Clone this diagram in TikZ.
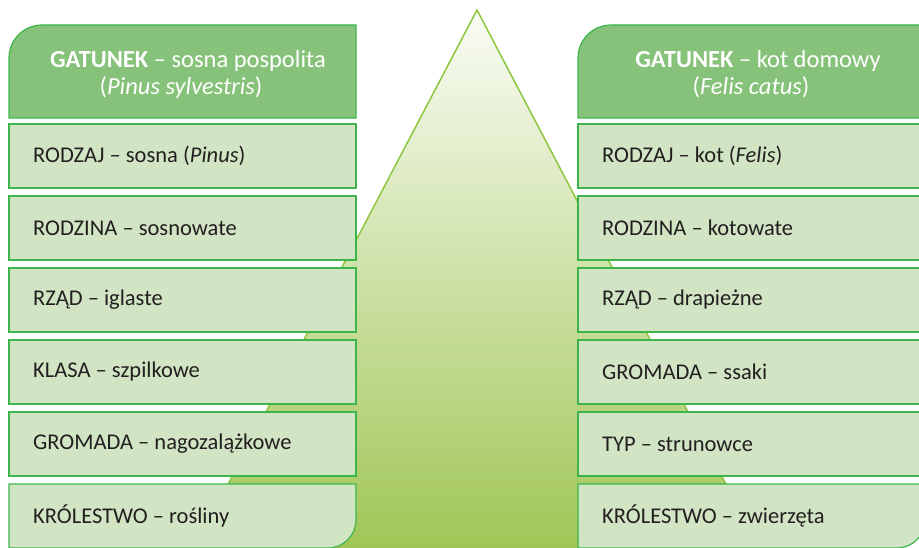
\documentclass[tikz,border=0pt]{standalone}
\usepackage{fontspec}
\setmainfont{Carlito}
\definecolor{boxfill}{HTML}{D1E4C3}
\definecolor{boxline}{HTML}{3DB54A}
\definecolor{hdrfill}{HTML}{87C27B}
\definecolor{trline}{HTML}{8DC63F}
\definecolor{trtop}{HTML}{FAFCF6}
\definecolor{trbot}{HTML}{A0C656}
\definecolor{txt}{HTML}{231F20}
\begin{document}
\begin{tikzpicture}[x=1pt,y=1pt,
  rowbox/.style={draw=boxline,fill=boxfill,line width=1.2pt},
  hdrbox/.style={draw=boxline,fill=hdrfill,line width=1.2pt},
  rowtext/.style={anchor=west,inner sep=0pt,text=txt,font=\fontsize{22.5}{27}\selectfont},
  hdrtext/.style={anchor=base,inner sep=0pt,text=white,font=\fontsize{24.5}{27}\selectfont}]
\useasboundingbox (0,0) rectangle (919,547);
% pyramid
\shade[top color=trtop,bottom color=trbot,draw=trline,line width=1.5pt]
  (477,537) coordinate (apex) -- (194,-2) -- (760,-2) -- cycle;
% left column
\draw[hdrbox] (9,429) -- (9,489) arc[start angle=180,end angle=90,radius=33pt] -- (356,522) -- (356,429) -- cycle;
\foreach \t in {423,351,279,207,135}
  \draw[rowbox] (9,\t) rectangle (356,\t-64);
\draw[rowbox] (9,63) -- (356,63) -- (356,27) arc[start angle=0,end angle=-90,radius=28pt] -- (9,-1) -- cycle;
% right column
\draw[hdrbox] (578,429) -- (578,489) arc[start angle=180,end angle=90,radius=33pt] -- (925,522) -- (925,429) -- cycle;
\foreach \t in {423,351,279,207,135}
  \draw[rowbox] (578,\t) rectangle (925,\t-64);
\draw[rowbox] (578,63) -- (925,63) -- (925,27) arc[start angle=0,end angle=-90,radius=28pt] -- (578,-1) -- cycle;
% header texts
\node[hdrtext] (lh1) at (188,479) {\textbf{GATUNEK} – sosna pospolita};
\node[hdrtext] (lh2) at (181,452) {(\textit{Pinus sylvestris})};
\node[hdrtext] (rh1) at (758,479) {\textbf{GATUNEK} – kot domowy};
\node[hdrtext] (rh2) at (751,452) {(\textit{Felis catus})};
% left rows
\node[rowtext] (l1) at (33,391) {RODZAJ – sosna (\textit{Pinus})};
\node[rowtext] (l2) at (33,319) {RODZINA – sosnowate};
\node[rowtext] (l3) at (33,247) {RZĄD – iglaste};
\node[rowtext] (l4) at (33,175) {KLASA – szpilkowe};
\node[rowtext] (l5) at (33,103) {GROMADA – nagozalążkowe};
\node[rowtext] (l6) at (33,31) {KRÓLESTWO – rośliny};
% right rows
\node[rowtext] (r1) at (602,391) {RODZAJ – kot (\textit{Felis})};
\node[rowtext] (r2) at (602,319) {RODZINA – kotowate};
\node[rowtext] (r3) at (602,247) {RZĄD – drapieżne};
\node[rowtext] (r4) at (602,175) {GROMADA – ssaki};
\node[rowtext] (r5) at (602,103) {TYP – strunowce};
\node[rowtext] (r6) at (602,31) {KRÓLESTWO – zwierzęta};
\end{tikzpicture}
\end{document}
